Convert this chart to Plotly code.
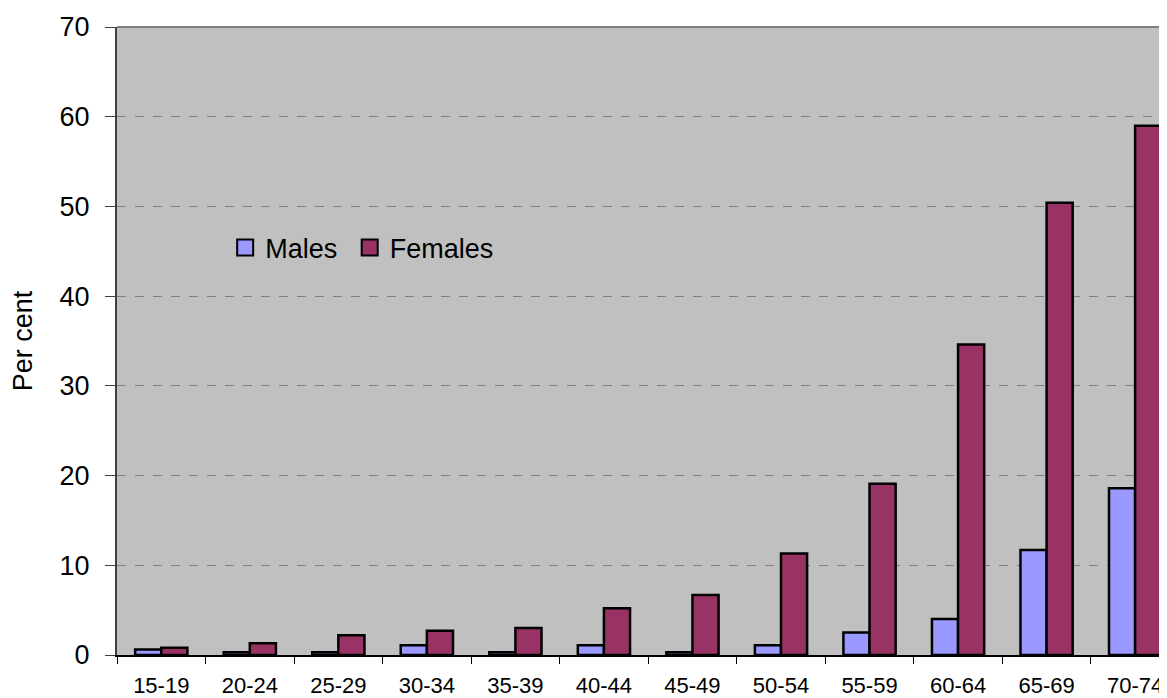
import plotly.graph_objects as go

age_groups = ["15-19", "20-24", "25-29", "30-34", "35-39", "40-44",
              "45-49", "50-54", "55-59", "60-64", "65-69", "70-74"]
males = [0.6, 0.3, 0.3, 1.1, 0.3, 1.1, 0.3, 1.1, 2.5, 4.0, 11.7, 18.6]
females = [0.8, 1.3, 2.2, 2.7, 3.0, 5.2, 6.7, 11.3, 19.1, 34.6, 50.4, 59.0]
y_ticks = [0, 10, 20, 30, 40, 50, 60, 70]

male_color = "#9999FF"
female_color = "#993366"

fig = go.Figure()
fig.add_trace(go.Bar(x=age_groups, y=males, name="Males", showlegend=False,
                     marker=dict(color=male_color, line=dict(color="black", width=2.5))))
fig.add_trace(go.Bar(x=age_groups, y=females, name="Females", showlegend=False,
                     marker=dict(color=female_color, line=dict(color="black", width=2.5))))
# legend entries with larger square symbols
for name, col in [("Males\u00a0", male_color), ("Females", female_color)]:
    fig.add_trace(go.Scatter(x=[None], y=[None], mode="markers", name=name,
                             marker=dict(symbol="square", size=16, color=col,
                                         line=dict(color="black", width=2))))

fig.update_layout(
    width=1159, height=690,
    margin=dict(l=109, r=0, t=19, b=43),
    paper_bgcolor="white",
    plot_bgcolor="#C0C0C0",
    barmode="group",
    bargap=0.41,
    bargroupgap=0,
    font=dict(family="Liberation Sans, Arial, sans-serif", color="black"),
    legend=dict(orientation="h", x=0.103, y=0.648, xanchor="left", yanchor="middle",
                bgcolor="rgba(0,0,0,0)", font=dict(size=27),
                traceorder="normal"),
    xaxis=dict(
        type="category",
        range=[-0.5, 11.36],
        tickson="boundaries",
        ticks="outside", ticklen=7, tickcolor="black", tickwidth=1,
        showline=True, linecolor="black", linewidth=1.5,
        showgrid=False,
        tickfont=dict(size=22),
        ticklabelstandoff=10,
    ),
    yaxis=dict(
        range=[0, 70],
        tickvals=y_ticks,
        ticks="outside", ticklen=10, tickcolor="#404040",
        showline=True, linecolor="#404040", linewidth=2,
        showgrid=True, gridcolor="#808080", griddash="dash", gridwidth=1,
        zeroline=False,
        tickfont=dict(size=27),
        ticklabelstandoff=10,
        title=dict(text="Per cent", font=dict(size=27), standoff=20),
    ),
)
fig.add_shape(type="line", xref="paper", yref="paper", x0=0, x1=1, y0=1, y1=1,
              line=dict(color="#808080", width=2))

fig.write_html("out.html")
